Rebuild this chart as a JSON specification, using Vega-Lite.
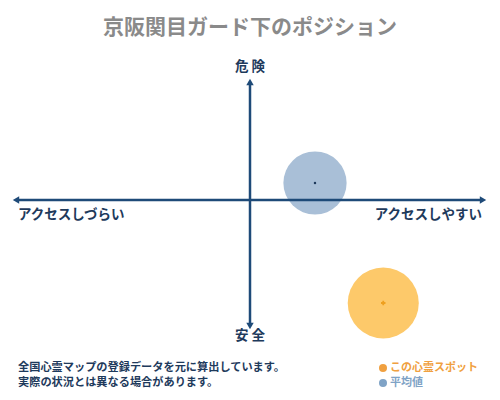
{
  "$schema": "https://vega.github.io/schema/vega-lite/v6.json",
  "width": 500,
  "height": 400,
  "autosize": {"type": "fit", "contains": "padding"},
  "padding": 0,
  "background": "white",
  "datasets": {
    "spots": [
      {"name": "この心霊スポット", "access": 53.3, "danger": -51.5, "area": 5050},
      {"name": "平均値", "access": 26, "danger": 8.5, "area": 4000}
    ],
    "axes": [
      {"x": -93, "x2": 92.5, "y": 0, "y2": 0},
      {"x": 0, "x2": 0, "y": 58.5, "y2": -62.5}
    ],
    "heads": [
      {"x": -93.6, "y": 0, "dir": "left"},
      {"x": 93.2, "y": 0, "dir": "right"},
      {"x": 0, "y": 59, "dir": "up"},
      {"x": 0, "y": -63, "dir": "down"}
    ],
    "poles": [
      {"label": "危 険", "x": 0, "y": 66.5},
      {"label": "安 全", "x": 0, "y": -68}
    ],
    "notes": [
      {"label": "全国心霊マップの登録データを元に算出しています。", "x": -92.8, "y": -84},
      {"label": "実際の状況とは異なる場合があります。", "x": -92.8, "y": -91.5}
    ],
    "legend": [
      {"name": "この心霊スポット", "x": 53.2, "y": -84},
      {"name": "平均値", "x": 53.2, "y": -91.5}
    ]
  },
  "encoding": {
    "x": {"type": "quantitative", "scale": {"domain": [-100, 100], "nice": false}, "axis": null},
    "y": {"type": "quantitative", "scale": {"domain": [-100, 100], "nice": false}, "axis": null}
  },
  "layer": [
    {
      "data": {"values": [{"title": "京阪関目ガード下のポジション", "x": 0, "y": 86}]},
      "mark": {"type": "text", "fontSize": 21, "fontWeight": "bold", "color": "#8a8a8a", "font": "Noto Sans CJK JP", "baseline": "middle"},
      "encoding": {"x": {"field": "x"}, "y": {"field": "y"}, "text": {"field": "title"}}
    },
    {
      "data": {"name": "spots"},
      "mark": {"type": "circle", "opacity": 1},
      "encoding": {
        "x": {"field": "access"},
        "y": {"field": "danger"},
        "size": {"field": "area", "type": "quantitative", "scale": null},
        "color": {
          "field": "name",
          "type": "nominal",
          "scale": {"domain": ["この心霊スポット", "平均値"], "range": ["#fdc96a", "#a9bfd7"]},
          "legend": null
        }
      }
    },
    {
      "data": {"name": "axes"},
      "mark": {"type": "rule", "color": "#1e4a78", "strokeWidth": 2.5},
      "encoding": {"x": {"field": "x"}, "x2": {"field": "x2"}, "y": {"field": "y"}, "y2": {"field": "y2"}}
    },
    {
      "data": {"name": "heads"},
      "mark": {"type": "point", "filled": true, "size": 55, "opacity": 1, "color": "#1e4a78"},
      "encoding": {
        "x": {"field": "x"},
        "y": {"field": "y"},
        "shape": {
          "field": "dir",
          "type": "nominal",
          "scale": {"domain": ["left", "right", "up", "down"], "range": ["triangle-left", "triangle-right", "triangle-up", "triangle-down"]},
          "legend": null
        }
      }
    },
    {
      "data": {"name": "spots"},
      "mark": {"type": "point", "filled": true, "opacity": 1},
      "encoding": {
        "x": {"field": "access"},
        "y": {"field": "danger"},
        "shape": {
          "field": "name",
          "type": "nominal",
          "scale": {"domain": ["この心霊スポット", "平均値"], "range": ["cross", "circle"]},
          "legend": null
        },
        "size": {
          "field": "name",
          "type": "nominal",
          "scale": {"domain": ["この心霊スポット", "平均値"], "range": [20, 6]},
          "legend": null
        },
        "color": {
          "field": "name",
          "type": "nominal",
          "scale": {"domain": ["この心霊スポット", "平均値"], "range": ["#eea020", "#1e3a5c"]},
          "legend": null
        }
      }
    },
    {
      "data": {"name": "poles"},
      "mark": {"type": "text", "fontSize": 13.5, "fontWeight": "bold", "color": "#1e3a5c", "font": "Noto Sans CJK JP", "baseline": "middle"},
      "encoding": {"x": {"field": "x"}, "y": {"field": "y"}, "text": {"field": "label"}}
    },
    {
      "data": {"values": [{"label": "アクセスしづらい", "x": -92.8, "y": -7.5}]},
      "mark": {"type": "text", "fontSize": 13.5, "fontWeight": "bold", "color": "#1e3a5c", "font": "Noto Sans CJK JP", "align": "left", "baseline": "middle"},
      "encoding": {"x": {"field": "x"}, "y": {"field": "y"}, "text": {"field": "label"}}
    },
    {
      "data": {"values": [{"label": "アクセスしやすい", "x": 92.8, "y": -7.5}]},
      "mark": {"type": "text", "fontSize": 13.5, "fontWeight": "bold", "color": "#1e3a5c", "font": "Noto Sans CJK JP", "align": "right", "baseline": "middle"},
      "encoding": {"x": {"field": "x"}, "y": {"field": "y"}, "text": {"field": "label"}}
    },
    {
      "data": {"name": "notes"},
      "mark": {"type": "text", "fontSize": 11.2, "fontWeight": "bold", "color": "#1e3a5c", "font": "Noto Sans CJK JP", "align": "left", "baseline": "middle"},
      "encoding": {"x": {"field": "x"}, "y": {"field": "y"}, "text": {"field": "label"}}
    },
    {
      "data": {"name": "legend"},
      "mark": {"type": "circle", "size": 64, "opacity": 1},
      "encoding": {
        "x": {"field": "x"},
        "y": {"field": "y"},
        "color": {
          "field": "name",
          "type": "nominal",
          "scale": {"domain": ["この心霊スポット", "平均値"], "range": ["#f0a040", "#7fa3c6"]},
          "legend": null
        }
      }
    },
    {
      "data": {"name": "legend"},
      "mark": {"type": "text", "fontSize": 11, "fontWeight": "bold", "font": "Noto Sans CJK JP", "align": "left", "baseline": "middle", "dx": 7},
      "encoding": {
        "x": {"field": "x"},
        "y": {"field": "y"},
        "text": {"field": "name"},
        "color": {
          "field": "name",
          "type": "nominal",
          "scale": {"domain": ["この心霊スポット", "平均値"], "range": ["#f0a040", "#7fa3c6"]},
          "legend": null
        }
      }
    }
  ],
  "resolve": {"scale": {"color": "independent", "shape": "independent", "size": "independent"}},
  "config": {"view": {"stroke": null}}
}
